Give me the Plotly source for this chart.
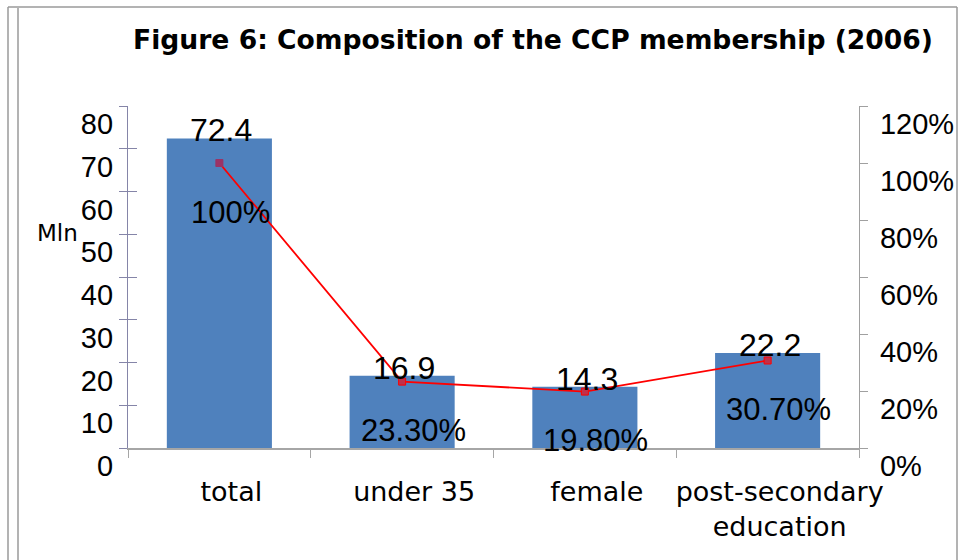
import plotly.graph_objects as go

# ---- data ----
categories = ["total", "under 35", "female", "post-secondary<br>education"]
members_mln = [72.4, 16.9, 14.3, 22.2]
share_pct = [100, 23.3, 19.8, 30.7]
share_labels = ["100%", "23.30%", "19.80%", "30.70%"]
left_ticks = [0, 10, 20, 30, 40, 50, 60, 70, 80]
right_ticks = [0, 0.2, 0.4, 0.6, 0.8, 1.0, 1.2]

W, H = 959, 560
L, R, T, B = 128, 100, 106, 112
pw, ph = W - L - R, H - T - B

def px_x(p):
    return (p - L) / pw

def px_y(p):
    return (H - B - p) / ph

NUM_FONT = "Liberation Sans, Arial, sans-serif"
TXT_FONT = "DejaVu Sans, Verdana, sans-serif"

fig = go.Figure()
fig.add_trace(go.Bar(
    x=categories, y=members_mln, marker=dict(color="#4F81BD", line=dict(width=0)),
    showlegend=False, hoverinfo="skip"))
fig.add_trace(go.Scatter(
    x=categories, y=[p / 100 for p in share_pct], yaxis="y2", mode="lines+markers",
    line=dict(color="#FF0000", width=1.8),
    marker=dict(symbol="square", size=7,
                color=["#9B3366", "#C0304A", "#C0304A", "#C0304A"],
                line=dict(color=["#9B3366", "#FF0000", "#FF0000", "#FF0000"], width=1)),
    showlegend=False, hoverinfo="skip"))
# invisible helper trace so the inside-tick overlay axis is drawn
fig.add_trace(go.Scatter(x=categories, y=members_mln, yaxis="y3", mode="markers",
                         marker=dict(opacity=0), showlegend=False, hoverinfo="skip"))

annotations = []
for c, v in zip(categories, members_mln):
    annotations.append(dict(x=c, y=v, xref="x", yref="y", text=f"{v}", showarrow=False,
                            yanchor="middle", yshift=8, xshift=2,
                            font=dict(family=NUM_FONT, size=32, color="#000")))
for c, p, t in zip(categories, share_pct, share_labels):
    annotations.append(dict(x=c, y=p / 100, xref="x", yref="y2", text=t, showarrow=False,
                            yanchor="middle", yshift=-49, xshift=11,
                            font=dict(family=NUM_FONT, size=31, color="#000")))
annotations.append(dict(x=px_x(57), y=px_y(233), xref="paper", yref="paper", text="Mln",
                        showarrow=False, xanchor="center", yanchor="middle",
                        font=dict(family=TXT_FONT, size=23, color="#000")))

shapes = [
    dict(type="line", xref="paper", yref="paper", x0=px_x(8), x1=px_x(957), y0=px_y(7), y1=px_y(7),
         line=dict(color="#9a9a9a", width=1.5)),
    dict(type="line", xref="paper", yref="paper", x0=px_x(8), x1=px_x(8), y0=px_y(7), y1=px_y(562),
         line=dict(color="#9a9a9a", width=1.5)),
    dict(type="line", xref="paper", yref="paper", x0=px_x(18), x1=px_x(18), y0=px_y(8), y1=px_y(562),
         line=dict(color="#9a9a9a", width=1.5)),
    dict(type="line", xref="paper", yref="paper", x0=px_x(957), x1=px_x(957), y0=px_y(7), y1=px_y(562),
         line=dict(color="#9a9a9a", width=1.5)),
]

fig.update_layout(
    width=W, height=H,
    margin=dict(l=L, r=R, t=T, b=B, pad=0, autoexpand=False),
    paper_bgcolor="white", plot_bgcolor="white",
    bargap=0.425,
    title=dict(text="<b>Figure 6: Composition of the CCP membership (2006)</b>",
               x=533 / W, xanchor="center", y=1 - 40 / H, yanchor="middle",
               xref="container", yref="container",
               font=dict(family=TXT_FONT, size=26.6, color="#000")),
    xaxis=dict(showline=True, linecolor="#a6a6a6", linewidth=1.5,
               ticks="outside", ticklen=8, tickcolor="#a6a6a6", tickson="boundaries",
               tickangle=0, automargin=False,
               tickfont=dict(family=TXT_FONT, size=27, color="#000"),
               ticklabelshift=12, ticklabelstandoff=19,
               showgrid=False, zeroline=False, fixedrange=True),
    yaxis=dict(range=[0, 80], tickvals=left_ticks, showline=True, linecolor="#8585a8",
               linewidth=1.2, ticks="outside", ticklen=8, tickcolor="#8585a8",
               automargin=False,
               tickfont=dict(family=NUM_FONT, size=29, color="#000"),
               ticklabelshift=18, ticklabelstandoff=0,
               showgrid=False, zeroline=False),
    yaxis3=dict(range=[0, 80], tickvals=left_ticks, overlaying="y", side="left",
                showline=False, ticks="inside", ticklen=9, tickcolor="#8585a8",
                automargin=False,
                showticklabels=False, showgrid=False, zeroline=False),
    yaxis2=dict(range=[0, 1.2], tickvals=right_ticks, tickformat=".0%", overlaying="y",
                side="right", showline=True, linecolor="#a0a0a0", linewidth=1.2,
                ticks="outside", ticklen=8, tickcolor="#a0a0a0",
                automargin=False,
                tickfont=dict(family=NUM_FONT, size=29, color="#000"),
                ticklabelshift=18, ticklabelstandoff=6,
                showgrid=False, zeroline=False),
    annotations=annotations,
    shapes=shapes,
)

fig.write_html("out.html", config={"displayModeBar": False},
               post_script="document.body.style.margin='0';")
